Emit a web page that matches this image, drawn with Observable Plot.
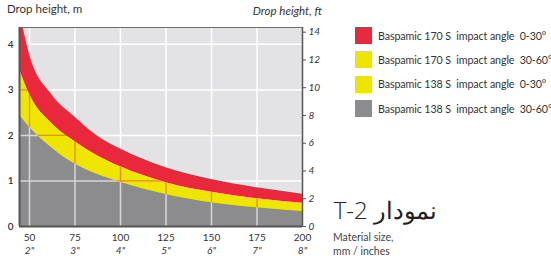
<!DOCTYPE html>
<html>
<head>
<meta charset="utf-8">
<script src="https://cdn.jsdelivr.net/npm/d3@7"></script>
<script src="https://cdn.jsdelivr.net/npm/@observablehq/plot@0.6"></script>
<style>
  html, body { margin: 0; padding: 0; background: #fff; }
  #wrap { position: relative; width: 551px; height: 260px; overflow: hidden; font-family: Lato, "Open Sans", sans-serif; color: #333; }
  #wrap svg { position: absolute; left: 0; top: 0; }
  .lbl { position: absolute; white-space: nowrap; }
  .sw { position: absolute; width: 17px; height: 17px; }
</style>
</head>
<body>
<div id="wrap"></div>
<script>
// ---- data ----
const sizesMm   = [44.5, 50, 62.5, 75, 87.5, 100, 125, 150, 175, 200];
const redTop    = [4.75, 3.78, 2.88, 2.40, 1.98, 1.70, 1.29, 1.03, 0.85, 0.71];
const yellowTop = [3.45, 2.90, 2.25, 1.86, 1.55, 1.31, 0.96, 0.75, 0.61, 0.51];
const grayTop   = [2.45, 2.18, 1.72, 1.37, 1.14, 0.97, 0.70, 0.52, 0.41, 0.33];

const mmTicks    = [50, 75, 100, 125, 150, 175, 200];
const inchLabels = ['2"', '3"', '4"', '5"', '6"', '7"', '8"'];
const gridX      = [50, 75, 100, 125, 150, 175];
const mTicks     = [0, 1, 2, 3, 4];
const gridY      = [1, 2, 3, 4];
const ftTicks    = [0, 2, 4, 6, 8, 10, 12, 14];

const legendLabels = [
  "Baspamic 170 S  impact angle  0-30°",
  "Baspamic 170 S  impact angle  30-60°",
  "Baspamic 138 S  impact angle  0-30°",
  "Baspamic 138 S  impact angle  30-60°"
];
const legendColors = ["#e8283d", "#ede500", "#ede500", "#8c8c8f"];

const RED = "#e9293b", YELLOW = "#eee500", GRAY = "#8c8c8f", BG = "#e3e3e5";
const xDomain = [44.5, 200];
const FT = 0.3048;

const rows = sizesMm.map((x, i) => ({x, r: redTop[i], yt: yellowTop[i], g: grayTop[i]}));

const chart = Plot.plot({
  width: 551, height: 260,
  marginLeft: 19, marginRight: 249, marginTop: 27, marginBottom: 34,
  x: {domain: xDomain, axis: null},
  y: {domain: [0, 4.37], axis: null},
  style: {fontFamily: "Lato, 'Open Sans', sans-serif", fontSize: "10px", color: "#333", background: "transparent", overflow: "visible"},
  marks: [
    Plot.frame({fill: BG}),
    // grid rules, in order: white, orange (yellow band), light (gray band)
    Plot.ruleX(gridX, {stroke: "#fff", strokeWidth: 1.5}),
    Plot.ruleY(gridY, {stroke: "#fff", strokeWidth: 1.5}),
    Plot.areaY(rows, {x: "x", y1: "yt", y2: "r", fill: RED, curve: "monotone-x", clip: true}),
    Plot.areaY(rows, {x: "x", y1: "g", y2: "yt", fill: YELLOW, curve: "monotone-x", clip: true}),
    Plot.ruleX(gridX, {stroke: "#e8892c", strokeWidth: 1.3}),
    Plot.ruleY(gridY, {stroke: "#e8892c", strokeWidth: 1.3}),
    Plot.areaY(rows, {x: "x", y1: 0, y2: "g", fill: GRAY, curve: "monotone-x", clip: true}),
    Plot.ruleX(gridX, {stroke: "#d6d6d8", strokeWidth: 1.5}),
    Plot.ruleY(gridY, {stroke: "#d6d6d8", strokeWidth: 1.5}),
    Plot.frame({stroke: "#6e6e70", strokeWidth: 1}),
    Plot.ruleX([xDomain[0]], {stroke: "#555", strokeWidth: 2}),
    Plot.ruleY([0], {stroke: "#555", strokeWidth: 2}),
    Plot.ruleX([xDomain[1]], {stroke: "#555", strokeWidth: 1.5}),
    Plot.axisY(mTicks, {anchor: "left", tickSize: 0, tickPadding: 6, label: null, fontWeight: 600, fontSize: 10}),
    Plot.axisY(ftTicks.map(f => f * FT), {anchor: "right", tickSize: 3, tickPadding: 3, stroke: "#555",
      tickFormat: d => String(Math.round(d / FT)), fontStyle: "italic", label: null, fontSize: 10}),
    Plot.axisX(mmTicks, {anchor: "bottom", tickSize: 0, tickPadding: 7, label: null, fontSize: 10}),
    Plot.axisX(mmTicks, {anchor: "bottom", tickSize: 0, tickPadding: 20, label: null, fontSize: 10, fontStyle: "italic",
      tickFormat: d => inchLabels[mmTicks.indexOf(d)]})
  ]
});

// clip the coloured grid copies to their bands
const SVGNS = "http://www.w3.org/2000/svg";
const areaGroups = chart.querySelectorAll('g[aria-label="area"]');
const ruleGroups = chart.querySelectorAll('g[aria-label="rule"]');
function clipTo(bandGroup, id, grids) {
  if (!bandGroup) return;
  const band = bandGroup.querySelector("path");
  if (!band) return;
  let defs = chart.querySelector("defs");
  if (!defs) { defs = document.createElementNS(SVGNS, "defs"); chart.insertBefore(defs, chart.firstChild); }
  const cp = document.createElementNS(SVGNS, "clipPath");
  cp.setAttribute("id", id);
  cp.setAttribute("clipPathUnits", "userSpaceOnUse");
  const p = document.createElementNS(SVGNS, "path");
  p.setAttribute("d", band.getAttribute("d"));
  cp.appendChild(p);
  defs.appendChild(cp);
  for (const g of grids) {
    if (!g) continue;
    const w = document.createElementNS(SVGNS, "g");
    w.setAttribute("clip-path", `url(#${id})`);
    g.parentNode.insertBefore(w, g);
    w.appendChild(g);
  }
}
clipTo(areaGroups[1], "clipYellow", [ruleGroups[2], ruleGroups[3]]);
clipTo(areaGroups[2], "clipGray", [ruleGroups[4], ruleGroups[5]]);

const wrap = document.getElementById("wrap");
wrap.appendChild(chart);

function addLabel(text, css, attrs = {}) {
  const d = document.createElement("div");
  d.className = "lbl";
  d.textContent = text;
  Object.assign(d.style, css);
  for (const k in attrs) d.setAttribute(k, attrs[k]);
  wrap.appendChild(d);
  return d;
}
addLabel("Drop height, m", {left: "7px", top: "2px", fontSize: "11.5px"});
addLabel("Drop height, ft", {right: "229px", top: "4px", fontSize: "11.5px", fontStyle: "italic"});
addLabel("نمودار T-2", {right: "114px", top: "193px", fontSize: "24px", fontWeight: "300", color: "#222", fontFamily: "'Open Sans', 'DejaVu Sans', sans-serif"}, {dir: "rtl"});
addLabel("Material size,", {left: "333px", top: "231px", fontSize: "10.5px", color: "#444"});
addLabel("mm / inches", {left: "333px", top: "245px", fontSize: "10.5px", color: "#444"});

legendLabels.forEach((lab, i) => {
  const top = 27 + i * 24.4;
  const s = document.createElement("div");
  s.className = "sw";
  s.style.left = "355px";
  s.style.top = top + "px";
  s.style.background = legendColors[i];
  wrap.appendChild(s);
  addLabel(lab, {left: "378px", top: (top + 1.5) + "px", fontSize: "10.7px", color: "#333", whiteSpace: "pre", letterSpacing: "-0.1px"});
});
</script>
</body>
</html>
